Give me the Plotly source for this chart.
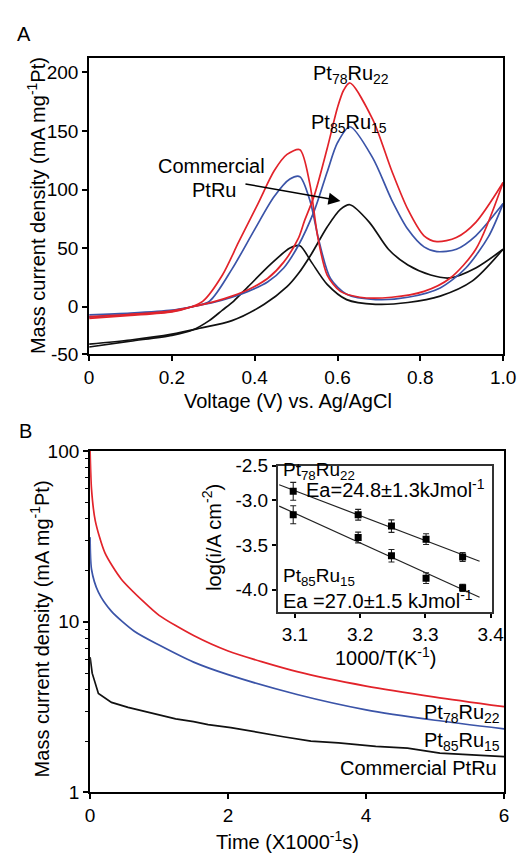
import numpy as np
import plotly.graph_objects as go

# ---------------- Panel A: cyclic voltammograms (mA mg^-1 Pt vs V) ----------------
v_fwd_78 = [0, 0.1, 0.2, 0.244, 0.3, 0.345, 0.384, 0.431, 0.47, 0.505, 0.52, 0.544, 0.575, 0.6, 0.615, 0.63,
            0.685, 0.731, 0.77, 0.809, 0.84, 0.887, 0.934, 1.0]
i_fwd_78 = [-8.5, -6.5, -3.5, -0.5, 4, 9, 14.4, 24, 38, 58, 73, 95, 135, 170, 185, 191,
            160, 116, 83, 60.5, 55.5, 59, 72, 106]
v_rev_78 = [1.0, 0.934, 0.871, 0.809, 0.731, 0.654, 0.607, 0.575, 0.552, 0.533, 0.509, 0.478, 0.447,
            0.408, 0.361, 0.322, 0.275, 0.244, 0.2, 0.1, 0]
i_rev_78 = [106, 49, 24, 13, 8, 8, 13, 27, 60, 105, 134, 130, 116,
            88, 55, 27, 4.7, -0.5, -4.5, -7.5, -10]

v_fwd_85 = [0, 0.1, 0.2, 0.25, 0.3, 0.345, 0.384, 0.431, 0.47, 0.505, 0.544, 0.575, 0.6, 0.63,
            0.685, 0.731, 0.77, 0.809, 0.84, 0.887, 0.934, 1.0]
i_fwd_85 = [-7, -5.5, -3, 0, 3.5, 8, 13, 21, 33, 52, 82, 115, 140, 153.6,
            127, 91, 66, 51, 47, 49, 60.5, 88]
v_rev_85 = [1.0, 0.965, 0.91, 0.848, 0.77, 0.692, 0.622, 0.583, 0.556, 0.533, 0.509, 0.485, 0.447,
            0.40, 0.345, 0.291, 0.25, 0.2, 0.1, 0]
i_rev_85 = [88, 60, 33, 16, 8, 6, 10.5, 24, 55, 91, 111, 109, 94,
            66, 32, 4.7, 0, -4, -6.5, -9]

v_fwd_com = [0, 0.1, 0.2, 0.267, 0.345, 0.423, 0.478, 0.505, 0.537, 0.575, 0.607, 0.63,
             0.677, 0.723, 0.77, 0.825, 0.871, 0.934, 1.0]
i_fwd_com = [-32, -28.5, -23.5, -18.5, -12, 2, 17, 28, 45, 68, 83, 87,
             72, 49, 35.5, 27, 24.5, 33, 49]
v_rev_com = [1.0, 0.926, 0.848, 0.77, 0.692, 0.622, 0.575, 0.537, 0.509, 0.485, 0.438, 0.384,
             0.35, 0.322, 0.29, 0.25, 0.2, 0.1, 0]
i_rev_com = [49, 22, 9, 3.5, 2, 6, 19, 38, 52, 50, 36, 17,
             5, -3, -12, -20, -24.5, -29.5, -34.5]

a_xticks = [0, 0.2, 0.4, 0.6, 0.8, 1.0]
a_xtick_text = ["0", "0.2", "0.4", "0.6", "0.8", "1.0"]
a_yticks = [-40.4, 0, 50, 100, 150, 200]
a_ytick_text = ["-50", "0", "50", "100", "150", "200"]

# ---------------- Panel B: chronoamperometry (log scale) ----------------
t_78 = [0, 0.02, 0.075, 0.215, 0.45, 0.775, 1.0, 1.5, 2.0, 3.0, 4.0, 5.0, 6.0]
j_78 = [100, 60, 39, 25.3, 17.8, 13.1, 10.9, 8.3, 6.74, 5.1, 4.2, 3.62, 3.18]
t_85 = [0, 0.02, 0.12, 0.31, 0.64, 1.0, 1.5, 2.0, 3.0, 4.0, 5.0, 6.0]
j_85 = [31.3, 20.3, 14.9, 11.5, 8.8, 7.3, 5.8, 4.9, 3.75, 3.05, 2.65, 2.36]
t_com = [0, 0.03, 0.12, 0.31, 0.55, 0.775, 1.0, 1.24, 1.5, 1.71, 2.04, 2.41, 2.8, 3.2, 3.6,
         4.14, 4.6, 5.07, 5.5, 6.0]
j_com = [6.2, 5.0, 3.8, 3.37, 3.15, 3.0, 2.85, 2.7, 2.6, 2.5, 2.4, 2.25, 2.12, 2.0, 1.95,
         1.86, 1.82, 1.70, 1.66, 1.62]

# ---------------- Inset: Arrhenius plot ----------------
inv_T = [3.0975, 3.197, 3.248, 3.301, 3.357]
log_i_78 = [-2.902, -3.163, -3.29, -3.435, -3.635]
log_i_85 = [-3.163, -3.417, -3.62, -3.87, -3.978]
err_78 = [0.1, 0.06, 0.07, 0.06, 0.05]
err_85 = [0.1, 0.06, 0.07, 0.06, 0.04]
inset_xticks = [3.1, 3.2, 3.3, 3.4]
inset_yticks = [-4.0, -3.5, -3.0, -2.616]
inset_ytick_text = ["-4.0", "-3.5", "-3.0", "-2.5"]

RED = "#e2232a"
BLUE = "#3b54a8"
BLACK = "#111111"
FONT = "Liberation Sans, Arial, sans-serif"

W, H = 518, 863


def px(X):
    return X / W


def py(Y):
    return 1 - Y / H


fig = go.Figure()

# Panel A curves: forward and reverse sweeps
for vf, jf, vr, jr, col in [
    (v_fwd_com, i_fwd_com, v_rev_com, i_rev_com, BLACK),
    (v_fwd_85, i_fwd_85, v_rev_85, i_rev_85, BLUE),
    (v_fwd_78, i_fwd_78, v_rev_78, i_rev_78, RED),
]:
    for vv, jj in [(vf, jf), (vr, jr)]:
        fig.add_trace(go.Scatter(x=vv, y=jj, mode="lines", xaxis="x", yaxis="y",
                                 line=dict(color=col, width=1.7, shape="spline", smoothing=0.8),
                                 showlegend=False, hoverinfo="skip"))

# Panel B curves
for tt, jj, col, shp in [(t_com, j_com, BLACK, "linear"), (t_85, j_85, BLUE, "spline"),
                         (t_78, j_78, RED, "spline")]:
    fig.add_trace(go.Scatter(x=tt, y=jj, mode="lines", xaxis="x2", yaxis="y2",
                             line=dict(color=col, width=1.7, shape=shp, smoothing=0.7),
                             showlegend=False, hoverinfo="skip"))

# Inset: linear fits and measured points
x_fit = np.array([3.076, 3.383])
for yy, ee in [(log_i_78, err_78), (log_i_85, err_85)]:
    k, b = np.polyfit(inv_T, yy, 1)
    fig.add_trace(go.Scatter(x=x_fit, y=k * x_fit + b, mode="lines", xaxis="x3", yaxis="y3",
                             line=dict(color="#222222", width=1.2), showlegend=False,
                             hoverinfo="skip"))
    fig.add_trace(go.Scatter(x=inv_T, y=yy, mode="markers", xaxis="x3", yaxis="y3",
                             marker=dict(symbol="square", size=7, color="black"),
                             error_y=dict(type="data", array=ee, color="#222222",
                                          thickness=1.1, width=3),
                             showlegend=False, hoverinfo="skip"))

axis_common = dict(showline=True, linecolor="black", linewidth=2, mirror=True,
                   ticks="outside", ticklen=5, tickwidth=1.5, tickcolor="black",
                   showgrid=False, zeroline=False,
                   tickfont=dict(family=FONT, size=19, color="black"))

fig.update_layout(
    width=W, height=H,
    margin=dict(l=0, r=0, t=0, b=0),
    paper_bgcolor="white", plot_bgcolor="rgba(0,0,0,0)",
    xaxis=dict(axis_common, domain=[px(87), px(515)], range=[0, 1.0], anchor="y",
               tickmode="array", tickvals=a_xticks, ticktext=a_xtick_text),
    yaxis=dict(axis_common, domain=[py(352.5), py(49)], range=[-40.4, 212.5], anchor="x",
               tickmode="array", tickvals=a_yticks, ticktext=a_ytick_text),
    xaxis2=dict(axis_common, domain=[px(88), px(516)], range=[0, 6], anchor="y2",
                tickmode="array", tickvals=[0, 2, 4, 6]),
    yaxis2=dict(axis_common, domain=[py(802), py(452)], type="log", range=[0, 2], anchor="x2",
                dtick=1,
                minor=dict(ticks="outside", ticklen=3, tickwidth=1, tickcolor="black",
                           dtick="D1", showgrid=False)),
    xaxis3=dict(axis_common, domain=[px(282), px(504)], range=[3.0738, 3.4027], anchor="y3",
                tickmode="array", tickvals=inset_xticks, linewidth=1.5, linecolor="#333333",
                ticklen=4),
    yaxis3=dict(axis_common, domain=[py(617), py(467)], range=[-4.247, -2.616], anchor="x3",
                tickmode="array", tickvals=inset_yticks, ticktext=inset_ytick_text,
                linewidth=1.5, linecolor="#333333", ticklen=4),
)

ann = []


def label(text, X, Y, size=20, xanchor="center", angle=0):
    ann.append(dict(text=text, x=px(X), y=py(Y), xref="paper", yref="paper",
                    xanchor=xanchor, yanchor="middle", showarrow=False, textangle=angle,
                    font=dict(family=FONT, size=size, color="black")))


# panel letters
label("A", 19.5, 25, size=20)
label("B", 21.5, 431, size=20)

# axis titles
label("Voltage (V) vs. Ag/AgCl", 293, 401, size=20)
label("Mass current density (mA mg<sup>-1</sup>Pt)", 32, 200, size=20, angle=-90)
label("Mass current density (mA mg<sup>-1</sup>Pt)", 36, 634, size=20, angle=-90)
label("Time (X1000<sup>-1</sup>s)", 292, 851, size=20)
label("1000/T(K<sup>-1</sup>)", 393, 663, size=20)
label("log(i/A cm<sup>-2</sup>)", 214, 540, size=20, angle=-90)

# panel A curve labels
label("Pt<sub>78</sub>Ru<sub>22</sub>", 358, 66, size=20)
label("Pt<sub>85</sub>Ru<sub>15</sub>", 356, 116, size=20)
label("Commercial", 213, 160, size=20)
label("PtRu", 216, 185, size=20)

# panel B curve labels
label("Pt<sub>78</sub>Ru<sub>22</sub>", 514, 721, size=20, xanchor="right")
label("Pt<sub>85</sub>Ru<sub>15</sub>", 514, 750, size=20, xanchor="right")
label("Commercial PtRu", 511, 777, size=20, xanchor="right")

# inset labels
label("Pt<sub>78</sub>Ru<sub>22</sub>", 285, 473, size=19, xanchor="left")
label("Ea=24.8±1.3kJmol<sup>-1</sup>", 309, 490, size=20, xanchor="left")
label("Pt<sub>85</sub>Ru<sub>15</sub>", 285, 581, size=19, xanchor="left")
label("Ea =27.0±1.5 kJmol<sup>-1</sup>", 285, 604, size=20, xanchor="left")

# arrow pointing to the commercial PtRu curve
ann.append(dict(text="", x=0.607, y=90.3, xref="x", yref="y", ax=0.374, ay=105,
                axref="x", ayref="y", showarrow=True, arrowhead=2, arrowsize=1.6,
                arrowwidth=1.5, arrowcolor="black"))

fig.update_layout(annotations=ann)
fig.write_html("out.html")
